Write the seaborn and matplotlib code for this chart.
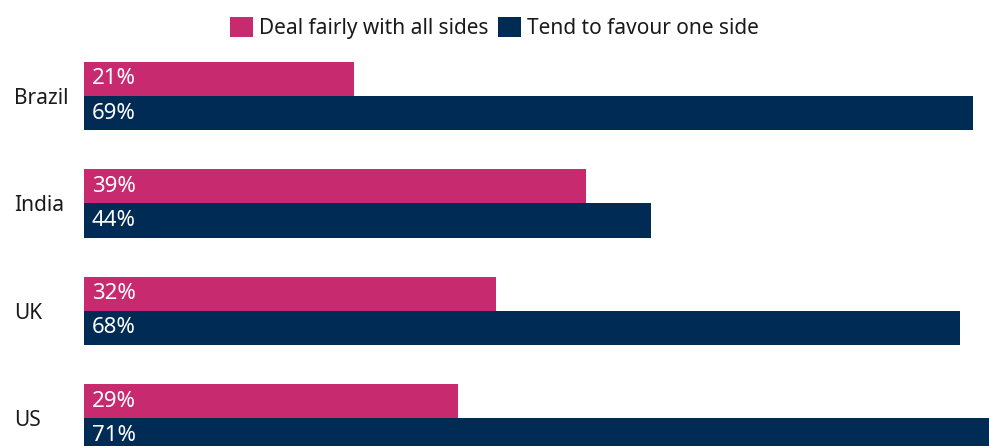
import matplotlib
matplotlib.use("Agg")
import matplotlib.pyplot as plt
from matplotlib.patches import Patch
import pandas as pd
import seaborn as sns

countries = ["Brazil", "India", "UK", "US"]
series_names = ["Deal fairly with all sides", "Tend to favour one side"]
deal_fairly = [21, 39, 32, 29]
favour_one = [69, 44, 68, 71]
colors = ["#C72A6F", "#002B55"]

df = pd.DataFrame({
    "country": countries * 2,
    "series": [series_names[0]] * len(countries) + [series_names[1]] * len(countries),
    "value": deal_fairly + favour_one,
})

sns.set_theme(style="white")
plt.rcParams["font.family"] = ["Noto Sans", "DejaVu Sans"]

W, H, DPI = 989, 446, 100
fig = plt.figure(figsize=(W / DPI, H / DPI), dpi=DPI)
ax = fig.add_axes([84 / W, 0, (W - 84) / W, 1])

sns.barplot(data=df, y="country", x="value", hue="series", orient="h",
            palette=colors, width=0.633, dodge=True, ax=ax, legend=False,
            saturation=1, order=countries, hue_order=series_names,
            linewidth=0, edgecolor="none")

ax.set_xlim(0, (W - 84) / 12.88)
ax.set_ylim(3.256, -0.893)
for s in ax.spines.values():
    s.set_visible(False)
ax.set_xlabel("")
ax.set_ylabel("")
ax.set_xticks([])
ax.tick_params(axis="y", length=0, pad=(84 - 14) * 72 / DPI)
for lab in ax.get_yticklabels():
    lab.set_horizontalalignment("left")
    lab.set_fontsize(15)
    lab.set_color("#1a1a1a")

# value labels just inside the start of each bar
for cont, vals in zip(ax.containers, [deal_fairly, favour_one]):
    for bar, v in zip(cont, vals):
        cy = bar.get_y() + bar.get_height() / 2
        ax.annotate(f"{v}%", xy=(0, cy), xytext=(8 * 72 / DPI, 0),
                    textcoords="offset points", va="center", ha="left",
                    color="white", fontsize=16)

handles = [Patch(facecolor=c, edgecolor="none") for c in colors]
fig.legend(handles, series_names, loc="center", bbox_to_anchor=(0.5, 1 - 28 / H),
           ncol=2, frameon=False, fontsize=15, handlelength=1.1, handleheight=1.1,
           handletextpad=0.3, columnspacing=0.45, labelcolor="#1a1a1a")

fig.savefig("out.png", dpi=DPI)
